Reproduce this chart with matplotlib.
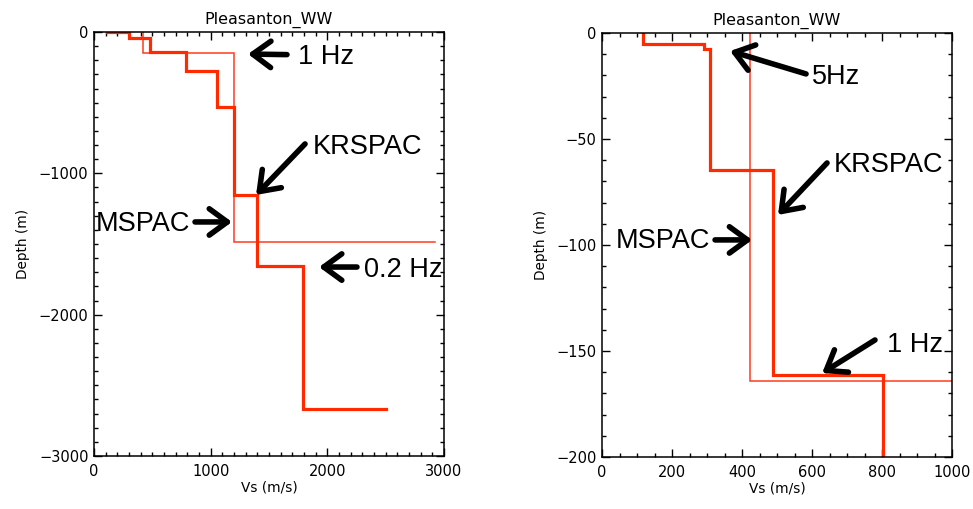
import matplotlib
matplotlib.use("Agg")
import matplotlib.pyplot as plt
from matplotlib.ticker import MultipleLocator

# ---------------- data ----------------
title = "Pleasanton_WW"
xlabel = "Vs (m/s)"
ylabel = "Depth (m)"

# left panel (deep profile)
left_kr_vs = [110, 300, 480, 790, 1050, 1200, 1400, 1790, 2500]
left_kr_iface = [0, 45, 140, 276, 531, 1153, 1653, 2669]
left_ms_vs = [417, 1200, 2920]
left_ms_iface = [150, 1486]

# right panel (shallow profile)
right_kr_vs = [118, 291, 309, 489, 802]
right_kr_iface = [5, 7.4, 64.5, 161.3]
right_kr_bottom = 205
right_ms_vs = [423, 1010]
right_ms_iface = [164]

left_xticks = [0, 1000, 2000, 3000]
left_yticks = [0, -1000, -2000, -3000]
right_xticks = [0, 200, 400, 600, 800, 1000]
right_yticks = [0, -50, -100, -150, -200]

# annotations: (text, text_xy, arrow_tail, arrow_tip, ha)
left_notes = [
    ("1 Hz", (1749, -177), (1654, -160), (1320, -156), "left"),
    ("KRSPAC", (1877, -814), (1809, -792), (1389, -1153), "left"),
    ("MSPAC", (823, -1358), (866, -1344), (1183, -1344), "right"),
    ("0.2 Hz", (2314, -1684), (2254, -1663), (1929, -1663), "left"),
]
right_notes = [
    ("5Hz", (600, -20.8), (583, -19.3), (366, -8.5), "left"),
    ("KRSPAC", (663, -62.3), (643, -61.3), (503, -85.8), "left"),
    ("MSPAC", (309, -98.1), (323, -97.6), (429, -97.6), "right"),
    ("1 Hz", (814, -147.2), (780, -144.8), (629, -160.4), "left"),
]

RED = "#ff2a00"
RED_THIN = "#ff3b1f"


def profile(vs, iface, bottom=None):
    xs = [vs[0]]
    ys = [0]
    for i, d in enumerate(iface):
        xs += [vs[i], vs[i + 1]]
        ys += [-d, -d]
    if bottom is not None:
        xs.append(vs[-1])
        ys.append(-bottom)
    return xs, ys


W, H = 973, 509
fig = plt.figure(figsize=(W / 100, H / 100), dpi=100)

def make_axes(x0, y0, x1, y1):
    return fig.add_axes([x0 / W, 1 - y1 / H, (x1 - x0) / W, (y1 - y0) / H])

axL = make_axes(94, 32, 444, 456)
axR = make_axes(602, 33, 952, 457)

def style(ax, xlim, ylim, xt, yt, xminor, yminor):
    ax.set_xlim(*xlim)
    ax.set_ylim(*ylim)
    ax.set_xticks(xt)
    ax.set_yticks(yt)
    ax.set_xticklabels([str(v) for v in xt])
    ax.set_yticklabels([str(v).replace("-", "\u2212") for v in yt])
    ax.xaxis.set_minor_locator(MultipleLocator(xminor))
    ax.yaxis.set_minor_locator(MultipleLocator(yminor))
    ax.tick_params(which="both", direction="in", top=True, right=True,
                   width=1.0, colors="black", labelsize=10.5)
    ax.tick_params(axis="x", which="both", pad=6)
    ax.tick_params(axis="y", which="both", pad=4)
    ax.tick_params(which="major", length=5.5)
    ax.tick_params(which="minor", length=3)
    for s in ax.spines.values():
        s.set_linewidth(1.1)
    ax.set_title(title, fontsize=11.5, pad=6)
    ax.set_xlabel(xlabel, fontsize=9.8, labelpad=1)
    ax.set_ylabel(ylabel, fontsize=9.8, labelpad=6)

style(axL, (0, 3000), (-3000, 0), left_xticks, left_yticks, 100, 100)
style(axR, (0, 1000), (-200, 0), right_xticks, right_yticks, 50, 10)

for ax, kr, ms in [
    (axL, profile(left_kr_vs, left_kr_iface), profile(left_ms_vs, left_ms_iface)),
    (axR, profile(right_kr_vs, right_kr_iface, right_kr_bottom),
     profile(right_ms_vs, right_ms_iface)),
]:
    ax.plot(ms[0], ms[1], color=RED_THIN, lw=1.1, solid_joinstyle="miter")
    ax.plot(kr[0], kr[1], color=RED, lw=2.3, solid_joinstyle="miter")

for ax, notes in [(axL, left_notes), (axR, right_notes)]:
    for txt, txy, tail, tip, ha in notes:
        ax.annotate("", xy=tip, xytext=tail,
                    arrowprops=dict(arrowstyle="->, head_length=1.3, head_width=0.95",
                                    lw=4.0, color="black", shrinkA=0, shrinkB=0,
                                    mutation_scale=10, capstyle="round",
                                    joinstyle="round"),
                    annotation_clip=False)
        ax.text(txy[0], txy[1], txt, ha=ha, va="center", fontsize=19.5,
                family="Liberation Sans", color="black", clip_on=False)

fig.savefig("out.png", dpi=100)
